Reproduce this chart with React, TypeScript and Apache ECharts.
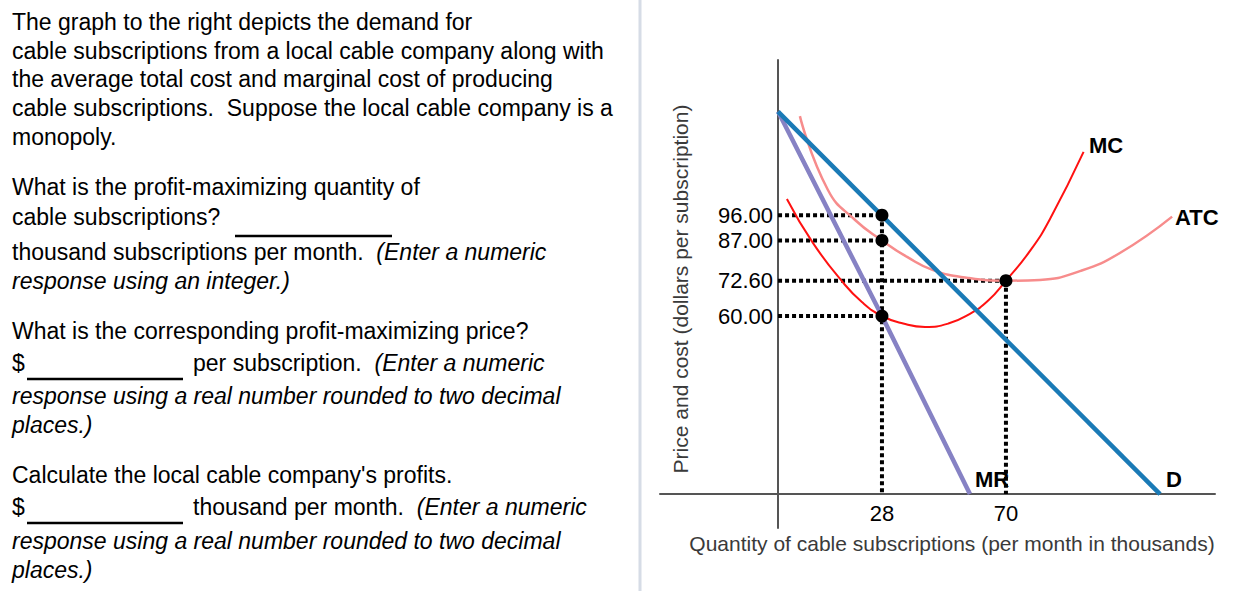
import React, { useEffect, useRef } from "react";
import * as echarts from "echarts";

// ---------- data ----------
const X_TICKS = [28, 70];
const Y_TICKS = [60, 72.6, 87, 96];
const DEMAND: number[][] = [[-7.2, 133], [122.2, -3.6]];
const MR: number[][] = [[-7.2, 133], [28, 60], [57.8, -3.6]];
const MC: number[][] = [
  [-4.2, 101.8], [4.6, 86.1], [14.7, 72.1], [21.2, 65.0], [28, 60], [35.2, 57.3],
  [42.6, 56.1], [50.5, 57.3], [57.5, 60.6], [64, 65.5], [70, 72.6], [78.4, 83.6],
  [85.1, 95], [96.3, 118.6],
];
const ATC: number[][] = [
  [0.2, 131.4], [9.7, 105], [18.9, 94.3], [28, 87], [36.5, 81.1],
  [45.3, 76.4], [57.2, 73.6], [70, 72.6], [81.5, 72.9], [95.3, 76.1], [108.6, 82.5],
  [126.3, 95.5],
];
const KEY_POINTS: number[][] = [[28, 96], [28, 87], [28, 60], [70, 72.6]];

// axis crossing (value where the drawn axes meet)
const AXIS_Q = -7.2;
const AXIS_P = -3.6;
const Q_MIN = -47.19, Q_MAX = 140.82;
const P_MIN = -15.71, P_MAX = 151.43;

const FONT = '"Liberation Sans", Arial, Helvetica, sans-serif';

const PARA_LINES: { t: string; y: number; x?: number }[] = [
  { t: "The graph to the right depicts the demand for", y: 22 },
  { t: "cable subscriptions from a local cable company along with", y: 51 },
  { t: "the average total cost and marginal cost of producing", y: 79 },
  { t: "cable subscriptions.  Suppose the local cable company is a", y: 108 },
  { t: "monopoly.", y: 137 },
  { t: "What is the profit-maximizing quantity of", y: 187 },
  { t: "cable subscriptions?", y: 217 },
  { t: "thousand subscriptions per month.  {i|(Enter a numeric}", y: 252 },
  { t: "{i|response using an integer.)}", y: 281 },
  { t: "What is the corresponding profit-maximizing price?", y: 331 },
  { t: "$", y: 363 },
  { t: "per subscription.  {i|(Enter a numeric}", y: 363, x: 193 },
  { t: "{i|response using a real number rounded to two decimal}", y: 396 },
  { t: "{i|places.)}", y: 425 },
  { t: "Calculate the local cable company's profits.", y: 475 },
  { t: "$", y: 507 },
  { t: "thousand per month.  {i|(Enter a numeric}", y: 507, x: 193 },
  { t: "{i|response using a real number rounded to two decimal}", y: 541 },
  { t: "{i|places.)}", y: 570 },
];

const BLANKS = [
  { x1: 235, x2: 392, y: 236 },
  { x1: 27, x2: 183, y: 379 },
  { x1: 27, x2: 183, y: 523 },
];

export default function App() {
  const ref = useRef<HTMLDivElement>(null);

  useEffect(() => {
    if (!ref.current) return;
    const chart = echarts.init(ref.current, null, { renderer: "svg" });

    const G = { left: 660, top: 60, width: 555, height: 468 };
    const qToPx = (q: number) => G.left + ((q - Q_MIN) / (Q_MAX - Q_MIN)) * G.width;
    const pToPx = (p: number) => G.top + G.height - ((p - P_MIN) / (P_MAX - P_MIN)) * G.height;
    const yAxisOffset = -(qToPx(AXIS_Q) - G.left);
    const xAxisOffset = -(G.top + G.height - pToPx(AXIS_P));

    const dotted = {
      color: "#000",
      width: 4,
      type: [4, 3] as any,
    };

    const guideSeries: any[] = [];
    KEY_POINTS.forEach((pt, i) => {
      guideSeries.push({
        type: "line",
        name: "guide-h-" + i,
        data: [[AXIS_Q, pt[1]], [pt[0], pt[1]]],
        symbol: "none",
        lineStyle: dotted,
        z: 1,
        silent: true,
      });
    });
    const qs = Array.from(new Set(KEY_POINTS.map((p) => p[0])));
    qs.forEach((q, i) => {
      const top = Math.max(...KEY_POINTS.filter((p) => p[0] === q).map((p) => p[1]));
      guideSeries.push({
        type: "line",
        name: "guide-v-" + i,
        data: [[q, top], [q, AXIS_P]],
        symbol: "none",
        lineStyle: dotted,
        z: 1,
        silent: true,
      });
    });

    const textEls: any[] = PARA_LINES.map((l) => ({
      type: "text",
      x: l.x ?? 12,
      y: l.y,
      style: {
        text: l.t,
        fontFamily: FONT,
        fontSize: 23,
        fill: "#000",
        align: "left",
        verticalAlign: "middle",
        textAlign: "left",
        textVerticalAlign: "middle",
        rich: {
          i: { fontStyle: "italic", fontFamily: FONT, fontSize: 23, fill: "#000" },
        },
      },
    }));

    const blankEls: any[] = BLANKS.map((b) => ({
      type: "line",
      shape: { x1: b.x1, y1: b.y, x2: b.x2, y2: b.y },
      style: { stroke: "#000", lineWidth: 2.5 },
    }));

    const label = (t: string, x: number, y: number) => ({
      type: "text",
      x,
      y,
      style: {
        text: t,
        fontFamily: FONT,
        fontSize: 22,
        fontWeight: "bold",
        fill: "#000",
        align: "left",
        verticalAlign: "middle",
        textAlign: "left",
        textVerticalAlign: "middle",
      },
      z: 10,
    });

    chart.setOption({
      animation: false,
      backgroundColor: "#fff",
      grid: { left: G.left, top: G.top, width: G.width, height: G.height, containLabel: false },
      xAxis: {
        type: "value",
        min: Q_MIN,
        max: Q_MAX,
        offset: xAxisOffset,
        axisLine: { show: true, onZero: false, lineStyle: { color: "#555", width: 2 } },
        axisTick: { show: false },
        splitLine: { show: false },
        axisLabel: {
          customValues: X_TICKS,
          formatter: (v: number) => String(v),
          fontFamily: FONT,
          fontSize: 22,
          color: "#000",
          margin: 8,
        },
      },
      yAxis: {
        type: "value",
        min: P_MIN,
        max: P_MAX,
        offset: yAxisOffset,
        axisLine: { show: true, onZero: false, lineStyle: { color: "#555", width: 2 } },
        axisTick: { show: false },
        splitLine: { show: false },
        axisLabel: {
          customValues: Y_TICKS,
          formatter: (v: number) => v.toFixed(2),
          fontFamily: FONT,
          fontSize: 22,
          color: "#000",
          margin: 5,
        },
      },
      series: [
        ...guideSeries,
        {
          type: "line",
          name: "ATC",
          data: ATC,
          smooth: 0.5,
          symbol: "none",
          lineStyle: { color: "#f78c8c", width: 2.5 },
          z: 2,
        },
        {
          type: "line",
          name: "MC",
          data: MC,
          smooth: 0.5,
          symbol: "none",
          lineStyle: { color: "#ff1111", width: 2 },
          z: 3,
        },
        {
          type: "line",
          name: "MR",
          data: MR,
          symbol: "none",
          lineStyle: { color: "#8682c4", width: 4.5 },
          z: 4,
        },
        {
          type: "line",
          name: "D",
          data: DEMAND,
          symbol: "none",
          lineStyle: { color: "#1a7ab6", width: 4.5 },
          z: 5,
        },
        {
          type: "scatter",
          name: "points",
          data: KEY_POINTS,
          symbolSize: 13,
          itemStyle: { color: "#000", opacity: 1 },
          z: 6,
        },
      ],
      graphic: {
        elements: [
          {
            type: "line",
            shape: { x1: 640, y1: 0, x2: 640, y2: 591 },
            style: { stroke: "#d6dce6", lineWidth: 3 },
          },
          ...textEls,
          ...blankEls,
          label("MC", 1089, 145),
          label("ATC", 1175, 217),
          label("MR", 975, 479),
          label("D", 1166, 479),
          {
            type: "text",
            x: 952,
            y: 543,
            style: {
              text: "Quantity of cable subscriptions (per month in thousands)",
              fontFamily: FONT,
              fontSize: 21,
              fill: "#3a3a3a",
              align: "center",
              verticalAlign: "middle",
              textAlign: "center",
              textVerticalAlign: "middle",
            },
          },
          {
            type: "text",
            x: 680,
            y: 289,
            rotation: Math.PI / 2,
            style: {
              text: "Price and cost (dollars per subscription)",
              fontFamily: FONT,
              fontSize: 21,
              fill: "#3a3a3a",
              align: "center",
              verticalAlign: "middle",
              textAlign: "center",
              textVerticalAlign: "middle",
            },
          },
        ],
      },
    });

    return () => chart.dispose();
  }, []);

  return (
    <div
      ref={ref}
      style={{ position: "absolute", left: 0, top: 0, width: 1253, height: 591 }}
    />
  );
}
